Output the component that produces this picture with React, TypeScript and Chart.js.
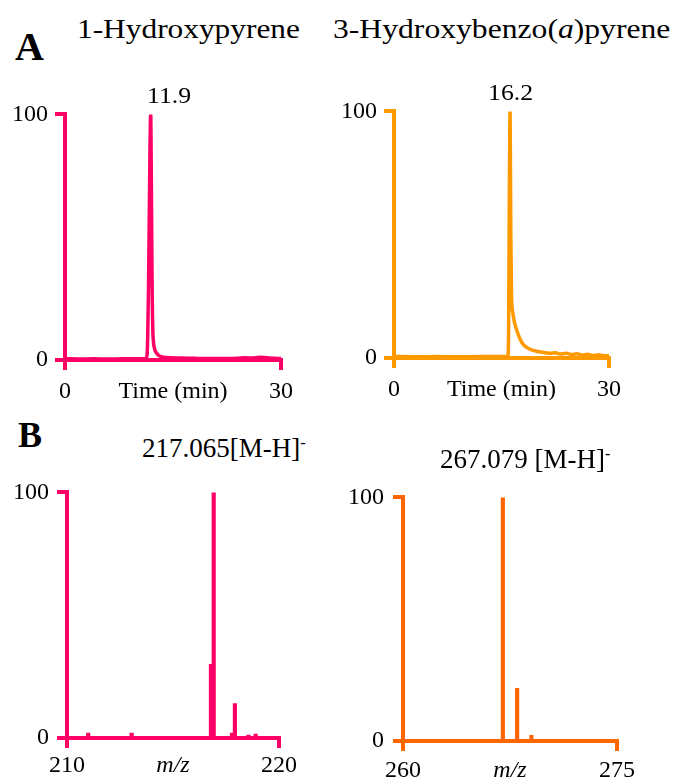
import React, { useEffect, useRef } from "react";
import { Chart, registerables } from "chart.js";

Chart.register(...registerables);

const FONT = "'Liberation Serif', 'Times New Roman', serif";
const PINK = "#FF0066";
const ORANGE = "#FF9900";
const ORANGE_B = "#FF6600";

// ---- Panel A (chromatograms) ----
const timeTicks = [0, 15, 30];
const timeTickLabels = ["0", "Time (min)", "30"];
const relTicks = [0, 100];
const relTickLabels = ["0", "100"];

// 1-Hydroxypyrene, retention 11.9 min
const hpTime = [0, 2, 4, 6, 8, 10, 11.2, 11.4, 11.6, 11.8, 11.9, 12.0, 12.1, 12.2, 12.3, 12.5, 12.8, 13.2, 14, 16, 18, 20, 22, 24, 25, 26, 27, 28, 29, 30];
const hpIntensity = [0.5, 0.4, 0.5, 0.4, 0.5, 0.5, 0.5, 2, 30, 85, 100, 70, 30, 12, 7, 4, 2.5, 1.5, 1, 0.8, 0.7, 0.6, 0.6, 0.7, 0.9, 0.8, 1.1, 0.9, 0.7, 0.6];

// 3-Hydroxybenzo(a)pyrene, retention 16.2 min
const bapTime = [0, 3, 6, 9, 12, 15, 15.9, 16.0, 16.1, 16.2, 16.3, 16.4, 16.6, 16.8, 17.0, 17.4, 17.9, 18.5, 19.3, 20.5, 21.8, 22.5, 23.2, 24, 24.8, 25.5, 26.3, 27, 27.8, 28.5, 29.2, 30];
const bapIntensity = [0.6, 0.5, 0.6, 0.5, 0.6, 0.6, 0.7, 15, 70, 100, 50, 25, 18, 14.5, 12.5, 9, 6, 4.3, 3.2, 2.4, 1.9, 2.1, 1.6, 1.9, 1.4, 1.7, 1.2, 1.5, 1.0, 1.3, 0.9, 1.0];

// ---- Panel B (mass spectra) ----
const hpMzTicks = [210, 215, 220];
const hpMzTickLabels = ["210", "m/z", "220"];
const hpMz = [211.0, 213.05, 216.79, 216.92, 217.78, 217.92, 218.56, 218.9];
const hpMzIntensity = [2, 2, 30, 100, 2, 14, 1.2, 1.6];

const bapMzTicks = [260, 267.5, 275];
const bapMzTickLabels = ["260", "m/z", "275"];
const bapMz = [267.0, 268.0, 269.0];
const bapMzIntensity = [100, 21.6, 2.3];

type AxisSpec = {
  color: string;
  xMin: number;
  xMax: number;
  xTicks: number[];
  xLabels: string[];
  italicMid: boolean;
  yWidth: number;
  xHeight: number;
  xPad: number;
  yPad: number;
};

function makeScales(s: AxisSpec): any {
  return {
    x: {
      type: "linear",
      min: s.xMin,
      max: s.xMax,
      offset: false,
      afterBuildTicks: (sc: any) => {
        sc.ticks = s.xTicks.map((v) => ({ value: v }));
      },
      afterFit: (sc: any) => {
        sc.height = s.xHeight;
      },
      grid: {
        display: true,
        drawOnChartArea: false,
        drawTicks: true,
        tickLength: 10,
        lineWidth: 4,
        offset: false,
        color: (ctx: any) => (ctx.index === 1 ? "rgba(0,0,0,0)" : s.color),
      },
      border: { display: true, color: s.color, width: 4 },
      ticks: {
        autoSkip: false,
        maxRotation: 0,
        minRotation: 0,
        padding: s.xPad,
        color: "#000",
        font: (ctx: any) => ({
          family: FONT,
          size: 24,
          style: s.italicMid && ctx.index === 1 ? "italic" : "normal",
        }),
        callback: (_v: any, i: number) => s.xLabels[i],
      },
    },
    y: {
      type: "linear",
      min: 0,
      max: 100,
      afterBuildTicks: (sc: any) => {
        sc.ticks = relTicks.map((v) => ({ value: v }));
      },
      afterFit: (sc: any) => {
        sc.width = s.yWidth;
      },
      grid: {
        display: true,
        drawOnChartArea: false,
        drawTicks: true,
        tickLength: 10,
        lineWidth: 4,
        color: s.color,
      },
      border: { display: true, color: s.color, width: 4 },
      ticks: {
        autoSkip: false,
        padding: s.yPad,
        color: "#000",
        font: { family: FONT, size: 24 },
        callback: (_v: any, i: number) => relTickLabels[i],
      },
    },
  };
}

function lineConfig(xs: number[], ys: number[], spec: AxisSpec, padTop: number, padRight: number): any {
  return {
    type: "line",
    data: {
      datasets: [
        {
          data: xs.map((x, i) => ({ x, y: ys[i] })),
          borderColor: spec.color,
          borderWidth: 3.5,
          pointRadius: 0,
          cubicInterpolationMode: "monotone",
          borderJoinStyle: "round",
          borderCapStyle: "round",
          fill: false,
        },
      ],
    },
    options: {
      responsive: false,
      animation: false,
      devicePixelRatio: 1,
      layout: { padding: { top: padTop, right: padRight, left: 0, bottom: 0 } },
      plugins: { legend: { display: false }, tooltip: { enabled: false } },
      scales: makeScales(spec),
    },
  };
}

function barConfig(xs: number[], ys: number[], spec: AxisSpec, padTop: number, padRight: number): any {
  return {
    type: "bar",
    data: {
      datasets: [
        {
          data: xs.map((x, i) => ({ x, y: ys[i] })),
          backgroundColor: spec.color,
          borderWidth: 0,
          barThickness: 3.5,
        },
      ],
    },
    options: {
      responsive: false,
      animation: false,
      devicePixelRatio: 1,
      layout: { padding: { top: padTop, right: padRight, left: 0, bottom: 0 } },
      plugins: { legend: { display: false }, tooltip: { enabled: false } },
      scales: makeScales(spec),
    },
  };
}

type PanelProps = { left: number; top: number; width: number; height: number; build: () => any };

function ChartPanel({ left, top, width, height, build }: PanelProps) {
  const ref = useRef<HTMLCanvasElement>(null);
  useEffect(() => {
    const chart = new Chart(ref.current as HTMLCanvasElement, build());
    return () => chart.destroy();
  }, []);
  return (
    <canvas
      ref={ref}
      width={width}
      height={height}
      style={{ position: "absolute", left, top, width, height, display: "block" }}
    />
  );
}

type TextProps = {
  x: number;
  baseline: number;
  size: number;
  sx?: number;
  bold?: boolean;
  children: React.ReactNode;
};

function Text({ x, baseline, size, sx = 1, bold = false, children }: TextProps) {
  return (
    <div
      style={{
        position: "absolute",
        left: x,
        top: baseline - 0.8375 * size,
        fontFamily: FONT,
        fontSize: size,
        lineHeight: `${size}px`,
        fontWeight: bold ? "bold" : "normal",
        whiteSpace: "nowrap",
        color: "#000",
        transform: `scaleX(${sx})`,
        transformOrigin: "left top",
        zIndex: 2,
      }}
    >
      {children}
    </div>
  );
}

const Sup = () => (
  <span style={{ position: "relative", top: "-0.6em", fontSize: "0.6em" }}>-</span>
);

export default function App() {
  const specA1: AxisSpec = {
    color: PINK, xMin: 0, xMax: 30, xTicks: timeTicks, xLabels: timeTickLabels,
    italicMid: false, yWidth: 65, xHeight: 43, xPad: 7, yPad: 7,
  };
  const specA2: AxisSpec = {
    color: ORANGE, xMin: 0, xMax: 30, xTicks: timeTicks, xLabels: timeTickLabels,
    italicMid: false, yWidth: 64, xHeight: 42, xPad: 7, yPad: 7,
  };
  const specB1: AxisSpec = {
    color: PINK, xMin: 210, xMax: 220, xTicks: hpMzTicks, xLabels: hpMzTickLabels,
    italicMid: true, yWidth: 67, xHeight: 42, xPad: 3, yPad: 8,
  };
  const specB2: AxisSpec = {
    color: ORANGE_B, xMin: 260, xMax: 275, xTicks: bapMzTicks, xLabels: bapMzTickLabels,
    italicMid: true, yWidth: 63, xHeight: 43, xPad: 5, yPad: 9,
  };

  return (
    <div style={{ position: "absolute", left: 0, top: 0, width: 682, height: 784, background: "#fff", overflow: "hidden" }}>
      <ChartPanel left={0} top={93} width={300} height={310} build={() => lineConfig(hpTime, hpIntensity, specA1, 20, 18)} />
      <ChartPanel left={330} top={90} width={300} height={310} build={() => lineConfig(bapTime, bapIntensity, specA2, 20, 21)} />
      <ChartPanel left={0} top={470} width={300} height={310} build={() => barConfig(hpMz, hpMzIntensity, specB1, 20, 20)} />
      <ChartPanel left={340} top={474} width={300} height={310} build={() => barConfig(bapMz, bapMzIntensity, specB2, 20, 21)} />

      <Text x={15} baseline={60} size={40} bold>A</Text>
      <Text x={18} baseline={447} size={36} bold>B</Text>
      <Text x={77} baseline={38} size={28} sx={1.12}>1-Hydroxypyrene</Text>
      <Text x={333} baseline={38} size={28} sx={1.13}>
        3-Hydroxybenzo(<i>a</i>)pyrene
      </Text>
      <Text x={147} baseline={103} size={23} sx={1.12}>11.9</Text>
      <Text x={488} baseline={100} size={23} sx={1.12}>16.2</Text>
      <Text x={142} baseline={458} size={27}>
        217.065[M-H]<Sup />
      </Text>
      <Text x={440} baseline={469} size={27}>
        267.079 [M-H]<Sup />
      </Text>
    </div>
  );
}
